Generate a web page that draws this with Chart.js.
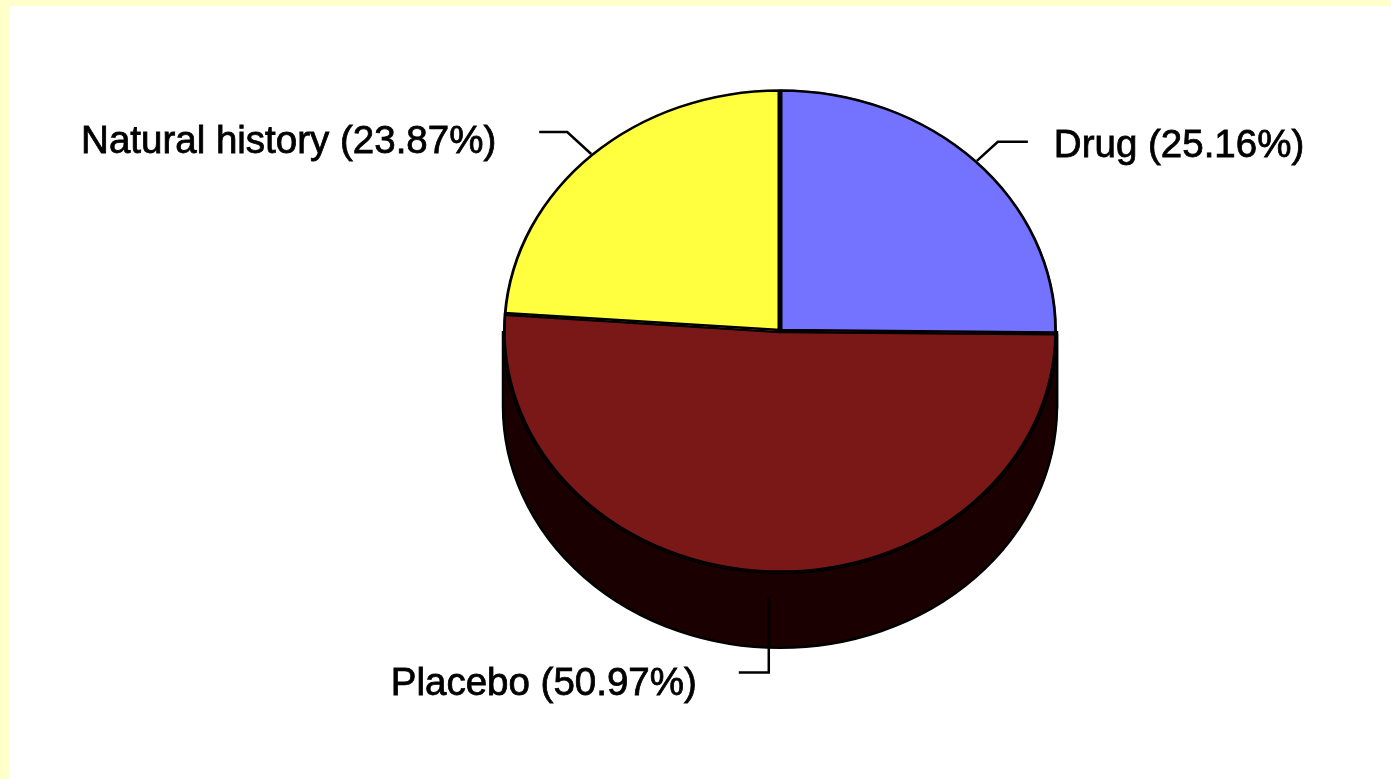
<!DOCTYPE html>
<html>
<head>
<meta charset="utf-8">
<title>Drug / Placebo / Natural history</title>
<script src="https://cdn.jsdelivr.net/npm/chart.js@4.4.0/dist/chart.umd.min.js"></script>
<style>
  html, body { margin: 0; padding: 0; width: 1391px; height: 779px; overflow: hidden; background: #FFFFCC; }
  #frame { position: absolute; left: 10px; top: 6px; width: 1381px; height: 773px; background: #FFFFFF; }
  canvas { display: block; }
</style>
</head>
<body>
<div id="frame"><canvas id="pie" width="1381" height="773"></canvas></div>
<script>
// Slices, clockwise from 12 o'clock
const categories = ['Drug', 'Placebo', 'Natural history'];
const shares = [25.16, 50.97, 23.87];
const faceColors = ['#7373FF', '#7A1818', '#FFFF40'];
const sideColors = ['#14103C', '#1A0000', '#3C3C00'];

// Tilted-disc look: vertical squash of the top face and thickness of the rim
const TILT = 0.873;
const DEPTH = 75;

// Leader line routes for each slice label (relative to the slice's rim point)
const leaderRoutes = [
  { kind: 'up-right', dx: 21, dy: -19, run: 30, gap: 26, baseline: 15 },
  { kind: 'down-left', drop: 100, run: 30, gap: 42, baseline: 22 },
  { kind: 'up-left', dx: -24, dy: -22, run: 28, gap: 43, baseline: 21 }
];

function labelText(i) {
  return categories[i] + ' (' + shares[i].toFixed(2) + '%)';
}

const tiltedPie = {
  id: 'tiltedPie',
  beforeDatasetsDraw(chart) {
    const ctx = chart.ctx;
    const arcs = chart.getDatasetMeta(0).data;
    const cx = arcs[0].x, cy = arcs[0].y, r = arcs[0].outerRadius;
    const ry = r * TILT;
    ctx.save();
    // rim of the disc: only the front half (0..PI) is visible
    arcs.forEach((arc, i) => {
      const a0 = Math.max(arc.startAngle, 0);
      const a1 = Math.min(arc.endAngle, Math.PI);
      if (a1 <= a0) return;
      ctx.beginPath();
      ctx.ellipse(cx, cy, r, ry, 0, a0, a1);
      ctx.ellipse(cx, cy + DEPTH, r, ry, 0, a1, a0, true);
      ctx.closePath();
      ctx.fillStyle = sideColors[i];
      ctx.fill();
      ctx.lineWidth = 2.5;
      ctx.strokeStyle = '#000000';
      ctx.stroke();
    });
    // squash the top face into an ellipse
    ctx.save();
    ctx.translate(cx, cy);
    ctx.scale(1, TILT);
    ctx.translate(-cx, -cy);
  },
  afterDatasetsDraw(chart) {
    const ctx = chart.ctx;
    ctx.restore();
    ctx.restore();

    const arcs = chart.getDatasetMeta(0).data;
    const cx = arcs[0].x, cy = arcs[0].y, r = arcs[0].outerRadius;
    const ry = r * TILT;

    ctx.save();
    ctx.strokeStyle = '#000000';
    ctx.fillStyle = '#000000';
    ctx.font = '38.5px "Liberation Sans", Arial, sans-serif';
    ctx.textBaseline = 'alphabetic';

    const writeLabel = (text, x, y) => {
      ctx.fillText(text, x, y);
      ctx.lineWidth = 0.8;
      ctx.strokeText(text, x, y);
    };

    arcs.forEach((arc, i) => {
      const mid = (arc.startAngle + arc.endAngle) / 2;
      const px = cx + r * Math.cos(mid);
      const py = cy + ry * Math.sin(mid);
      const route = leaderRoutes[i];
      ctx.lineWidth = 2.5;
      ctx.beginPath();
      if (route.kind === 'up-right') {
        const ex = px + route.dx, ey = py + route.dy;
        ctx.moveTo(px, py);
        ctx.lineTo(ex, ey);
        ctx.lineTo(ex + route.run, ey);
        ctx.stroke();
        ctx.textAlign = 'left';
        writeLabel(labelText(i), ex + route.run + route.gap, ey + route.baseline);
      } else if (route.kind === 'up-left') {
        const ex = px + route.dx, ey = py + route.dy;
        ctx.moveTo(px, py);
        ctx.lineTo(ex, ey);
        ctx.lineTo(ex - route.run, ey);
        ctx.stroke();
        ctx.textAlign = 'right';
        writeLabel(labelText(i), ex - route.run - route.gap, ey + route.baseline);
      } else {
        const ey = py + route.drop;
        ctx.moveTo(px, py + 25);
        ctx.lineTo(px, ey);
        ctx.lineTo(px - route.run, ey);
        ctx.stroke();
        ctx.textAlign = 'right';
        writeLabel(labelText(i), px - route.run - route.gap, ey + route.baseline);
      }
    });
    ctx.restore();
  }
};

new Chart(document.getElementById('pie'), {
  type: 'pie',
  data: {
    labels: categories,
    datasets: [{
      data: shares,
      backgroundColor: faceColors,
      borderColor: '#000000',
      borderWidth: 2.5,
      borderAlign: 'inner',
      radius: 277
    }]
  },
  options: {
    responsive: false,
    animation: false,
    devicePixelRatio: 1,
    layout: { padding: { left: 159, right: 0, top: 0, bottom: 123 } },
    plugins: {
      legend: { display: false },
      tooltip: { enabled: false },
      title: { display: false }
    }
  },
  plugins: [tiltedPie]
});
</script>
</body>
</html>
